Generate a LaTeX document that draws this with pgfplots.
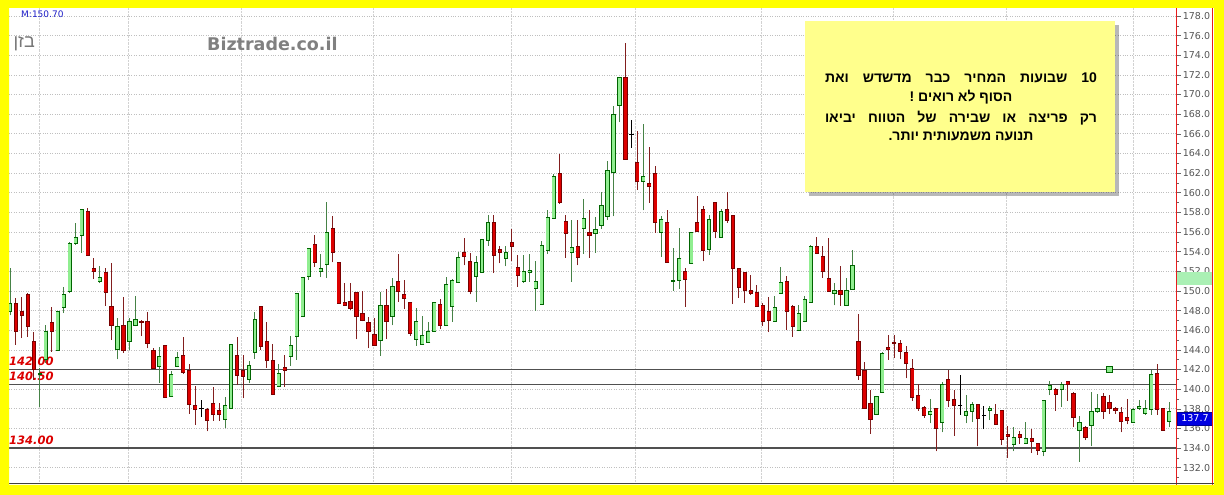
\documentclass[border=0pt]{standalone}
\usepackage{pgfplots}
\pgfplotsset{compat=1.18}
\usepackage{pgfplotstable}
\usepackage{fontspec}
\setmainfont{DejaVu Sans}
\newfontfamily\dejavu{DejaVu Sans}
\newfontfamily\hebfont[Script=Hebrew]{Liberation Sans}
\TeXXeTstate=1

\definecolor{frameyellow}{RGB}{255,255,0}
\definecolor{bodyup}{RGB}{144,238,144}
\definecolor{edgeup}{RGB}{0,100,0}
\definecolor{wickup}{RGB}{70,130,70}
\definecolor{bodydn}{RGB}{220,0,0}
\definecolor{edgedn}{RGB}{120,0,0}
\definecolor{wickdn}{RGB}{130,30,30}
\definecolor{levelgray}{RGB}{80,80,80}
\definecolor{levelred}{RGB}{220,0,0}
\definecolor{notebg}{RGB}{255,255,140}
\definecolor{axisred}{RGB}{230,30,30}
\definecolor{lastblue}{RGB}{0,0,225}
\definecolor{mavgreen}{RGB}{170,240,180}
\definecolor{labelgray}{RGB}{85,85,85}

% rising sessions: index, open, high, low, close
\pgfplotstableread{
i o h l c
1 147.9 152.3 147.5 148.75
6 141.5 142.2 138.15 141.6
7 143.0 146.5 142.65 145.92
9 143.9 147.9 143.9 147.9
10 148.33 150.44 147.73 149.66
11 149.93 155.0 149.76 154.85
12 154.8 156.9 154.7 155.5
13 155.7 158.3 153.87 158.3
16 151.0 152.5 150.8 151.4
19 144.0 147.2 143.04 146.36
21 144.9 147.2 144.0 146.87
22 146.47 149.5 146.4 147.1
26 142.3 144.3 140.6 143.3
28 139.24 141.8 139.2 141.55
29 142.3 143.8 142.3 143.26
37 136.9 139.24 136.0 138.3
38 138.05 144.6 138.0 144.6
41 141.0 142.9 140.6 142.4
42 143.75 147.9 143.1 147.1
46 140.25 142.6 140.2 141.6
48 143.3 145.4 142.4 144.43
49 145.4 149.8 142.97 149.76
50 147.45 151.4 147.4 151.4
51 151.45 154.34 151.1 154.34
53 152.0 153.76 151.4 152.3
54 152.7 159.1 151.3 155.97
63 145.0 149.93 143.4 148.57
65 147.4 151.3 146.5 150.5
69 145.1 148.3 144.4 146.87
70 144.6 147.4 144.5 145.45
71 144.77 146.87 144.7 145.85
72 145.85 148.8 145.85 148.8
74 146.47 151.4 146.47 150.7
75 148.47 151.2 146.87 151.05
76 150.85 154.0 150.8 153.4
79 151.45 153.56 148.9 152.9
80 151.9 155.3 151.9 155.3
81 155.2 157.7 154.6 157.0
84 153.3 154.6 152.5 153.9
87 150.95 153.66 150.85 151.96
88 151.9 153.76 150.95 152.1
89 150.26 153.0 148.0 150.95
90 148.6 155.1 148.6 154.6
91 154.1 158.2 153.76 157.5
92 157.4 161.9 157.3 161.7
95 153.9 157.2 150.95 154.4
97 156.4 159.4 153.8 157.4
99 155.9 157.5 153.9 156.3
100 156.65 160.04 156.3 158.7
101 157.6 163.27 157.2 162.3
102 162.1 168.8 157.6 168.0
103 168.87 171.8 167.2 171.75
107 161.13 166.97 158.2 161.64
110 155.97 157.6 153.5 157.33
112 150.95 154.4 150.04 151.1
113 151.1 156.4 150.2 153.3
115 152.8 156.0 152.8 155.97
118 154.2 157.7 153.66 157.3
120 155.46 158.3 155.4 158.07
129 146.95 149.5 146.9 148.3
130 149.78 152.4 149.7 150.9
133 145.97 148.6 145.97 147.73
134 146.9 149.5 146.8 149.15
135 148.8 154.7 148.8 154.5
139 149.8 150.8 148.54 150.1
141 148.5 151.3 148.5 150.1
142 150.15 154.2 150.15 152.56
146 137.4 139.3 137.4 139.25
147 139.7 143.83 139.6 143.66
155 137.4 139.0 136.5 137.7
157 136.6 140.7 135.6 140.44
161 137.3 139.4 136.5 137.7
162 137.7 138.7 136.64 138.4
165 137.8 138.24 136.85 138.07
169 134.4 136.1 133.66 135.1
171 134.5 136.7 134.4 135.0
174 133.66 138.83 133.15 138.83
175 140.0 140.8 139.4 140.4
177 139.93 140.7 138.2 140.44
180 135.8 137.25 132.6 136.63
182 136.27 139.66 134.17 137.7
183 137.74 139.5 137.6 138.0
189 136.63 138.07 136.56 137.98
190 138.0 138.9 137.9 138.24
191 137.56 138.9 137.4 138.07
192 137.9 141.97 137.4 141.46
195 136.7 138.7 136.1 137.7
}\upT

% falling sessions
\pgfplotstableread{
i o h l c
2 148.75 149.25 144.5 145.86
3 147.9 149.4 145.2 147.47
4 149.6 149.83 145.35 146.4
5 144.9 145.85 140.95 142.05
8 146.8 148.4 143.8 145.9
14 158.14 158.4 153.66 153.66
15 152.3 153.4 151.2 151.96
17 151.86 152.37 148.47 149.86
18 148.47 152.8 145.0 146.47
20 146.47 149.4 143.7 143.9
23 146.9 147.0 145.4 146.75
24 146.87 147.9 144.16 144.67
25 143.9 144.16 142.1 142.1
27 144.43 144.5 139.1 139.17
30 143.4 145.3 141.55 141.7
31 141.9 142.6 137.5 138.45
32 138.3 140.3 136.35 137.9
34 137.97 138.1 135.7 136.8
35 138.6 140.2 136.8 137.4
36 137.8 138.55 136.76 137.4
39 143.4 145.35 140.4 141.45
40 141.9 143.5 139.07 141.35
43 148.47 148.5 144.0 144.33
44 144.9 146.8 142.2 142.9
45 142.9 144.6 139.4 139.5
47 142.2 143.5 140.25 141.9
52 154.75 155.7 152.47 152.9
55 156.4 157.6 152.9 153.9
56 152.9 152.9 148.7 148.7
57 148.8 150.8 148.5 148.57
58 148.9 150.8 148.1 148.2
59 149.9 149.9 145.07 147.38
60 147.7 150.0 146.9 146.97
61 146.8 147.3 144.16 145.85
62 145.6 147.2 144.4 144.5
64 148.57 150.2 145.1 146.87
66 150.95 153.76 148.9 149.93
67 149.6 151.1 148.2 149.25
68 148.8 148.8 145.45 145.7
73 148.6 149.2 146.1 146.47
77 153.9 155.4 152.6 153.5
78 153.05 153.83 149.66 150.0
82 157.0 157.7 151.8 153.66
83 154.2 154.6 152.8 153.9
85 154.9 156.3 153.0 154.5
86 152.4 153.66 150.4 151.6
93 161.98 163.9 158.9 159.0
94 157.05 157.7 153.4 155.9
96 154.5 157.2 152.6 153.4
98 156.0 158.2 153.4 155.7
104 171.75 175.2 163.4 163.4
106 163.1 166.3 160.3 161.13
108 161.0 164.7 159.0 160.6
109 161.98 162.7 155.9 156.99
111 156.96 158.2 152.9 152.9
114 151.96 152.3 148.4 151.2
116 156.96 159.7 156.0 156.1
117 158.3 158.6 153.0 154.1
119 159.0 159.0 155.36 156.04
121 158.3 160.1 156.96 157.2
122 157.67 157.7 148.66 152.3
123 152.3 152.3 149.3 150.4
124 151.9 151.9 148.8 150.1
125 150.1 151.6 149.6 149.76
126 149.83 150.6 148.4 148.47
127 148.58 148.75 146.44 146.95
128 147.97 149.4 145.8 147.05
131 150.95 151.47 145.97 147.97
132 148.47 148.6 145.35 146.37
136 154.5 155.5 153.8 153.8
137 153.5 154.58 151.36 151.97
138 151.3 155.36 149.93 149.93
140 150.1 152.5 148.5 149.6
143 144.9 147.66 140.95 141.45
144 141.9 142.8 138.07 138.07
145 138.5 139.86 135.46 136.94
148 144.27 145.5 142.98 144.0
149 144.8 145.5 143.15 144.66
150 144.7 145.0 143.05 143.83
151 143.7 144.4 141.1 142.6
152 142.1 143.1 138.8 139.2
153 139.4 140.5 137.8 138.0
154 138.1 138.24 137.1 137.3
156 138.07 138.1 133.66 136.03
158 140.95 141.9 138.17 138.85
159 139.0 139.93 135.25 138.3
163 138.4 138.5 134.17 136.98
166 137.4 138.5 136.4 136.44
167 137.8 137.9 134.27 134.85
168 135.35 136.2 132.97 135.2
170 135.4 135.7 134.4 135.1
172 135.0 135.97 133.5 134.7
173 134.44 134.5 133.3 133.76
176 139.93 140.1 137.8 139.42
178 140.75 140.8 138.8 140.44
179 139.6 139.66 136.1 137.12
181 136.14 136.27 134.8 135.1
184 139.3 139.6 136.96 137.74
185 138.7 139.4 137.5 138.0
186 138.0 138.17 137.5 137.8
187 137.67 138.14 135.6 136.7
188 137.15 139.03 136.4 136.8
193 141.56 142.58 137.4 137.97
194 138.0 138.0 135.8 135.8
}\dnT

% unchanged sessions (doji)
\pgfplotstableread{
i o h l c
33 138.05 138.9 137.2 138.05
105 165.9 167.4 164.6 165.9
160 138.3 141.46 137.4 138.3
164 137.3 138.3 135.9 137.3
}\djT

% wick span and body span for the error-bar drawing
\pgfplotstablecreatecol[create col/expr={\thisrow{h}-\thisrow{l}}]{rng}\upT
\pgfplotstablecreatecol[create col/expr={\thisrow{c}-\thisrow{o}}]{bod}\upT
\pgfplotstablecreatecol[create col/expr={\thisrow{h}-\thisrow{l}}]{rng}\dnT
\pgfplotstablecreatecol[create col/expr={\thisrow{o}-\thisrow{c}}]{bod}\dnT
\pgfplotstablecreatecol[create col/expr={\thisrow{h}-\thisrow{l}}]{rng}\djT

\pgfplotsset{
  wick/.style={draw=none, mark=none, forget plot,
    error bars/.cd, y dir=plus, y explicit, error mark=none,
    error bar style={draw=#1, line width=1pt}},
  body/.style 2 args={draw=none, mark=none, forget plot,
    error bars/.cd, y dir=plus, y explicit, error mark=none,
    error bar style={draw=#1, line width=#2, line cap=butt}},
  cap/.style={only marks, mark=-, mark size=2.1pt, forget plot,
    mark options={draw=#1, line width=0.7pt}},
}

\begin{document}
\begin{tikzpicture}
% white chart area
\fill[white] (0pt,0pt) rectangle (1224pt,495pt);

\begin{axis}[
  at={(9pt,12pt)}, anchor=south west,
  x=5.975pt, y=9.82pt,
  xmin=0.83, xmax=196.26,
  ymin=130.44, ymax=178.81,
  clip=false,
  axis line style={draw=none},
  xtick={6,20.75,39.8,61.75,84.85,105.75,126.85,148.8,167.85,189},
  xticklabels={},
  xtick style={draw=none},
  xmajorgrids,
  x grid style={gray!35, densely dotted, line width=1pt},
  ytick={132,134,...,178},
  minor ytick={131,133,...,177},
  ymajorgrids,
  y grid style={gray!50, dotted, line width=0.6pt},
  ytick pos=right,
  yticklabel pos=right,
  tick align=outside,
  major tick length=4pt, minor tick length=2pt,
  ytick style={gray!80!black, line width=0.5pt},
  yticklabel style={font=\dejavu\fontsize{9.5}{10}\selectfont, text=labelgray, anchor=west, inner sep=0pt, xshift=2pt},
  yticklabel={\pgfmathprintnumber[fixed,fixed zerofill,precision=1,assume math mode=true]{\tick}},
]
% support / resistance levels
\addplot[levelgray, line width=1.2pt] coordinates {(0.83,142) (196.26,142)};
\addplot[levelgray, line width=1.2pt] coordinates {(0.83,140.5) (196.26,140.5)};
\addplot[levelgray, line width=1.2pt] coordinates {(0.83,134) (196.26,134)};
\node[anchor=base west, inner sep=0pt, yshift=4pt, text=levelred, font=\dejavu\bfseries\itshape\fontsize{11.5}{12}\selectfont] at (axis cs:0.83,142) {142.00};
\node[anchor=base west, inner sep=0pt, yshift=4pt, text=levelred, font=\dejavu\bfseries\itshape\fontsize{11.5}{12}\selectfont] at (axis cs:0.83,140.5) {140.50};
\node[anchor=base west, inner sep=0pt, yshift=4pt, text=levelred, font=\dejavu\bfseries\itshape\fontsize{11.5}{12}\selectfont] at (axis cs:0.83,134) {134.00};

% alert marker
\addplot[only marks, mark=square*, mark size=2.6pt, mark options={fill=bodyup, draw=edgeup, line width=0.8pt}] coordinates {(185,142)};

% rising candles
\addplot[wick=wickup] table[x=i, y=l, y error=rng] {\upT};
\addplot[body={edgeup}{4.2pt}] table[x=i, y=o, y error=bod] {\upT};
\addplot[body={bodyup}{2.8pt}] table[x=i, y=o, y error=bod] {\upT};
\addplot[cap=edgeup] table[x=i, y=o] {\upT};
\addplot[cap=edgeup] table[x=i, y=c] {\upT};

% falling candles
\addplot[wick=wickdn] table[x=i, y=l, y error=rng] {\dnT};
\addplot[body={edgedn}{4.2pt}] table[x=i, y=c, y error=bod] {\dnT};
\addplot[body={bodydn}{2.8pt}] table[x=i, y=c, y error=bod] {\dnT};
\addplot[cap=edgedn] table[x=i, y=o] {\dnT};
\addplot[cap=edgedn] table[x=i, y=c] {\dnT};

% doji sessions
\addplot[wick=black] table[x=i, y=l, y error=rng] {\djT};
\addplot[only marks, mark=-, mark size=2.4pt, mark options={draw=black, line width=1pt}] table[x=i, y=o] {\djT};
\end{axis}

% right price-scale decorations
\fill[mavgreen] (1177pt,210pt) rectangle (1212.5pt,223.3pt);
\filldraw[fill=lastblue, draw=blue!60!black, line width=0.5pt] (1177.3pt,70pt) rectangle (1212.7pt,83pt);
\node[text=white, font=\dejavu\fontsize{9.5}{10}\selectfont, inner sep=0pt] at (1195pt,76.5pt) {137.7};
\draw[axisred, line width=1.2pt] (1176.5pt,10pt) -- (1176.5pt,487pt);
\draw[axisred, line width=1.2pt] (1212.8pt,10pt) -- (1212.8pt,487pt);
\draw[black!75, line width=1.3pt] (9pt,11.7pt) -- (1214pt,11.7pt);

% header texts
\node[anchor=west, inner sep=0pt, text={rgb,255:red,30;green,30;blue,200}, font=\dejavu\fontsize{9}{10}\selectfont] at (21pt,480.5pt) {M:150.70};
\node[anchor=east, inner sep=0pt, text={rgb,255:red,120;green,120;blue,120}, font=\hebfont\fontsize{18}{19}\selectfont] at (35pt,451pt) {\beginR בזן\endR};
\node[anchor=west, inner sep=0pt, text={rgb,255:red,128;green,128;blue,128}, font=\dejavu\bfseries\fontsize{17.5}{18}\selectfont] at (207pt,451pt) {Biztrade.co.il};

% comment note
\fill[black, opacity=0.28] (809pt,299.3pt) rectangle (1119pt,470pt);
\fill[notebg] (805pt,303.3pt) rectangle (1115pt,474pt);
\begin{scope}[every node/.style={inner sep=0pt, font=\hebfont\bfseries\fontsize{14}{17}\selectfont}]
\node at (961pt,417.3pt) {\spaceskip=4pt plus 30pt\hbox to 272pt{\beginR\beginL 10\endL{} שבועות המחיר כבר מדשדש ואת\endR}};
\node at (961pt,398.3pt) {\beginR הסוף לא רואים !\endR};
\node at (961pt,376.7pt) {\spaceskip=4pt plus 30pt\hbox to 272pt{\beginR רק פריצה או שבירה של הטווח יביאו\endR}};
\node at (961pt,359pt) {\beginR תנועה משמעותית יותר.\endR};
\end{scope}

% outer frame
\fill[frameyellow, even odd rule] (0pt,0pt) rectangle (1224pt,495pt) (9pt,10pt) rectangle (1214pt,487pt);
\pgfresetboundingbox
\path (0pt,0pt) rectangle (1224pt,495pt);
\end{tikzpicture}
\end{document}
